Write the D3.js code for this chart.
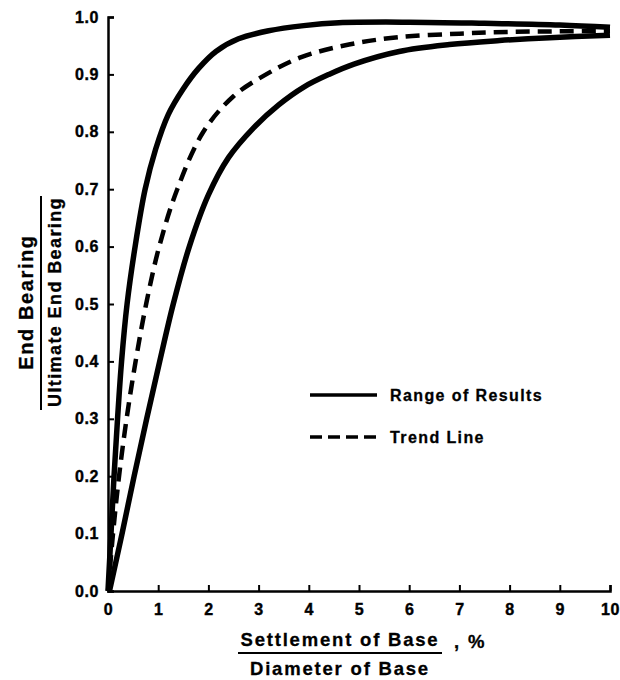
<!DOCTYPE html>
<html>
<head>
<meta charset="utf-8">
<script src="https://cdn.jsdelivr.net/npm/d3@7"></script>
<style>
  html, body { margin: 0; padding: 0; background: #fff; }
  svg { display: block; }
  text { font-family: "Liberation Sans", Arial, Helvetica, sans-serif; font-weight: 700; fill: #000; }
</style>
</head>
<body>
<svg id="chart" width="620" height="680"></svg>
<script>
// ---- data ----
const xTicks = [0, 1, 2, 3, 4, 5, 6, 7, 8, 9, 10];
const yTicks = [0.0, 0.1, 0.2, 0.3, 0.4, 0.5, 0.6, 0.7, 0.8, 0.9, 1.0];

// upper bound of "Range of Results"
const upperX = [0, 0.06, 0.12, 0.19, 0.27, 0.38, 0.54, 0.74, 0.95, 1.2, 1.5, 1.8, 2.15, 2.6, 3.2, 3.9, 4.6, 6.0, 7.5, 9.0, 10.0];
const upperY = [0, 0.1, 0.2, 0.3, 0.4, 0.5, 0.6, 0.7, 0.77, 0.83, 0.875, 0.91, 0.94, 0.962, 0.976, 0.985, 0.99, 0.991, 0.989, 0.986, 0.982];

// trend line
const trendX = [0, 0.1, 0.22, 0.37, 0.55, 0.76, 1.02, 1.38, 1.9, 2.5, 3.15, 3.85, 4.8, 5.8, 7.0, 8.0, 9.0, 10.0];
const trendY = [0, 0.1, 0.2, 0.3, 0.4, 0.5, 0.6, 0.7, 0.8, 0.862, 0.9, 0.93, 0.952, 0.965, 0.971, 0.974, 0.975, 0.976];

// lower bound of "Range of Results"
const lowerX = [0.03, 0.28, 0.52, 0.77, 1.03, 1.3, 1.62, 2.0, 2.4, 2.9, 3.4, 3.9, 4.4, 4.9, 5.8, 6.8, 7.8, 8.8, 10.0];
const lowerY = [0, 0.1, 0.2, 0.3, 0.4, 0.5, 0.6, 0.69, 0.755, 0.807, 0.847, 0.878, 0.9, 0.918, 0.94, 0.952, 0.959, 0.964, 0.968];

const legendItems = ["Range of Results", "Trend Line"];

// ---- layout ----
const svg = d3.select("#chart");
const x = d3.scaleLinear().domain([0, 10]).range([108, 610]);
const y = d3.scaleLinear().domain([0, 1]).range([591, 17]);

// axes
const xAxis = d3.axisBottom(x).tickValues(xTicks).tickSize(-6).tickPadding(13).tickFormat(d3.format("d"));
const yAxis = d3.axisLeft(y).tickValues(yTicks).tickSize(-6).tickPadding(8).tickFormat(d3.format(".1f"));

const gx = svg.append("g").attr("transform", `translate(0,${y(0)})`).call(xAxis);
const gy = svg.append("g").attr("transform", `translate(${x(0)},0)`).call(yAxis);

[gx, gy].forEach(g => {
  g.attr("font-family", null).attr("font-size", null);
  g.select(".domain").attr("stroke", "#000").attr("stroke-width", 2.5);
  g.selectAll(".tick line").attr("stroke", "#000").attr("stroke-width", 2);
  g.selectAll(".tick text")
    .attr("font-weight", 700)
    .style("font-family", '"Liberation Sans", Arial, sans-serif')
    .style("font-weight", "700")
    .style("font-size", "16px")
    .style("letter-spacing", "0.6px")
    .attr("fill", "#000")
    .attr("stroke", "#000").attr("stroke-width", 0.4);
});
gy.selectAll(".tick text").attr("dx", "-1");

// curves
const line = d3.line().x(d => x(d[0])).y(d => y(d[1])).curve(d3.curveCatmullRom.alpha(0.5));
const upper = upperX.map((v, i) => [v, upperY[i]]);
const trend = trendX.map((v, i) => [v, trendY[i]]);
const lower = lowerX.map((v, i) => [v, lowerY[i]]);

svg.append("path").datum(upper).attr("d", line)
  .attr("fill", "none").attr("stroke", "#000").attr("stroke-width", 5.5).attr("stroke-linejoin", "round");
svg.append("path").datum(lower).attr("d", line)
  .attr("fill", "none").attr("stroke", "#000").attr("stroke-width", 5.5).attr("stroke-linejoin", "round");
svg.append("path").datum(trend).attr("d", line)
  .attr("fill", "none").attr("stroke", "#000").attr("stroke-width", 4.5).attr("stroke-dasharray", "14,8");

// legend
const leg = svg.append("g");
legendItems.forEach((name, i) => {
  const ly = 395 + i * 42;
  leg.append("line").attr("x1", 310).attr("x2", 377).attr("y1", ly).attr("y2", ly)
    .attr("stroke", "#000").attr("stroke-width", 3.5)
    .attr("stroke-dasharray", i === 1 ? "12,6" : null);
  leg.append("text").attr("x", 390).attr("y", ly + 6)
    .attr("stroke", "#000").attr("stroke-width", 0.3)
    .style("font-size", "16px").style("letter-spacing", "1.4px").text(name);
});

// x title
svg.append("text").attr("x", 340).attr("y", 646).attr("text-anchor", "middle")
  .attr("stroke", "#000").attr("stroke-width", 0.3)
  .style("font-size", "18.5px").style("letter-spacing", "1.8px").text("Settlement of Base");
svg.append("line").attr("x1", 238).attr("x2", 442).attr("y1", 653).attr("y2", 653)
  .attr("stroke", "#000").attr("stroke-width", 2);
svg.append("text").attr("x", 454).attr("y", 648)
  .attr("stroke", "#000").attr("stroke-width", 0.3)
  .style("font-size", "18.5px").style("letter-spacing", "1.8px").text(", %");
svg.append("text").attr("x", 340).attr("y", 675).attr("text-anchor", "middle")
  .attr("stroke", "#000").attr("stroke-width", 0.3)
  .style("font-size", "18.5px").style("letter-spacing", "1.8px").text("Diameter of Base");

// y title
svg.append("text").attr("transform", "translate(33,302) rotate(-90)").attr("text-anchor", "middle")
  .attr("stroke", "#000").attr("stroke-width", 0.3)
  .style("font-size", "20px").style("letter-spacing", "1.6px").text("End Bearing");
svg.append("line").attr("x1", 41).attr("x2", 41).attr("y1", 196).attr("y2", 410)
  .attr("stroke", "#000").attr("stroke-width", 2);
svg.append("text").attr("transform", "translate(61,302) rotate(-90)").attr("text-anchor", "middle")
  .attr("stroke", "#000").attr("stroke-width", 0.3)
  .style("font-size", "18px").style("letter-spacing", "1.4px").text("Ultimate End Bearing");
</script>
</body>
</html>
